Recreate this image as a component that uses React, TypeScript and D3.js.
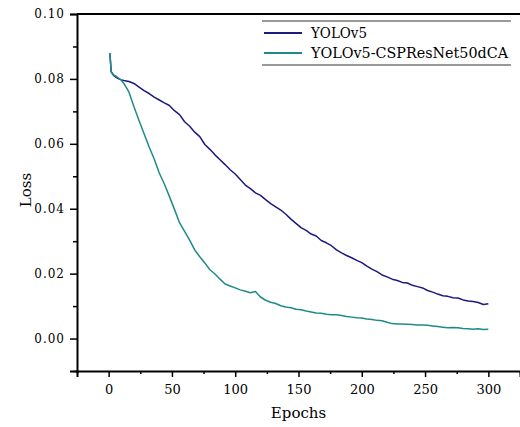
import React, { useRef, useEffect } from 'react';
import * as d3 from 'd3';

// epochs sampled along both curves
const epochs = [1, 2, 4, 6, 8, 10,
  12, 16, 20, 24, 28, 32, 36, 40, 44, 48, 52, 56, 60, 64, 68, 72, 76, 80, 84, 88, 92, 96, 100,
  104, 108, 112, 116, 120, 124, 128, 132, 136, 140, 144, 148, 152, 156, 160, 164, 168, 172, 176, 180,
  184, 188, 192, 196, 200, 204, 208, 212, 216, 220, 224, 228, 232, 236, 240, 244, 248, 252, 256, 260,
  264, 268, 272, 276, 280, 284, 288, 292, 296, 300];

const yolov5 = [0.0879, 0.0822, 0.0810, 0.0805, 0.0800, 0.0797,
  0.0795, 0.0792, 0.0786, 0.0775, 0.0764, 0.0755, 0.0744, 0.0735, 0.0726, 0.0718, 0.0702, 0.0690, 0.0668,
  0.0654, 0.0636, 0.0622, 0.0598, 0.0583, 0.0566, 0.0551, 0.0536, 0.0520, 0.0507,
  0.0490, 0.0473, 0.0462, 0.0449, 0.0441, 0.0428, 0.0416, 0.0406, 0.0396, 0.0383, 0.0368, 0.0355, 0.0342,
  0.0333, 0.0322, 0.0316, 0.0302, 0.0295, 0.0286, 0.0273,
  0.0264, 0.0256, 0.0249, 0.0241, 0.0234, 0.0223, 0.0214, 0.0206, 0.0196, 0.0190, 0.0183, 0.0179, 0.0173,
  0.0171, 0.0164, 0.0160, 0.0156, 0.0148, 0.0143, 0.0137,
  0.0132, 0.0130, 0.0126, 0.0125, 0.0119, 0.0116, 0.0114, 0.0111, 0.0105, 0.0107];

const cspResNet = [0.0879, 0.0822, 0.0812, 0.0808, 0.0802, 0.0796,
  0.0786, 0.0760, 0.0714, 0.0672, 0.0631, 0.0590, 0.0553, 0.0510, 0.0476, 0.0438, 0.0398, 0.0357, 0.0330,
  0.0303, 0.0273, 0.0252, 0.0233, 0.0212, 0.0199, 0.0183, 0.0168, 0.0162, 0.0156,
  0.0150, 0.0146, 0.0141, 0.0145, 0.0128, 0.0118, 0.0112, 0.0108, 0.0101, 0.0097, 0.0095, 0.0090, 0.0089,
  0.0085, 0.0082, 0.0079, 0.0078, 0.0075, 0.0073, 0.0073,
  0.0071, 0.0068, 0.0066, 0.0064, 0.0063, 0.0060, 0.0059, 0.0056, 0.0055, 0.0050, 0.0046, 0.0045, 0.0045,
  0.0044, 0.0043, 0.0042, 0.0042, 0.0041, 0.0039, 0.0037,
  0.0035, 0.0033, 0.0034, 0.0033, 0.0031, 0.0030, 0.0029, 0.0030, 0.0028, 0.0029];

const seriesNames = ['YOLOv5', 'YOLOv5-CSPResNet50dCA'];
const seriesColors = ['#1a1a80', '#1f8a8a'];
const xTicks = [0, 50, 100, 150, 200, 250, 300];
const xMinorTicks = [-25, 25, 75, 125, 175, 225, 275, 325];
const yTicks = [0, 0.02, 0.04, 0.06, 0.08, 0.1];
const yMinorTicks = [-0.01, 0.01, 0.03, 0.05, 0.07, 0.09];

const App = () => {
  const svgRef = useRef<SVGSVGElement | null>(null);

  useEffect(() => {
    const svg = d3.select(svgRef.current);
    svg.selectAll('*').remove();

    const left = 77, right = 520, top = 14, bottom = 371;
    const font = "'DejaVu Serif', serif";

    const x = d3.scaleLinear().domain([-25, 325]).range([left, right]);
    const y = d3.scaleLinear().domain([-0.01, 0.1]).range([bottom, top]);

    // lines
    const line = d3.line<number>()
      .x((_, i) => x(epochs[i]))
      .y(d => y(d));

    [yolov5, cspResNet].forEach((vals, k) => {
      svg.append('path')
        .datum(vals)
        .attr('fill', 'none')
        .attr('stroke', seriesColors[k])
        .attr('stroke-width', 1.5)
        .attr('stroke-linejoin', 'round')
        .attr('d', line);
    });

    // x axis
    const xAxis = svg.append('g').attr('transform', `translate(0,${bottom})`);
    xAxis.call(d3.axisBottom(x).tickValues(xTicks).tickSize(6).tickFormat(d3.format('d')))
      .call(g => g.select('.domain').attr('stroke-width', 2))
      .call(g => g.selectAll('.tick line').attr('stroke-width', 1.5))
      .call(g => g.selectAll('.tick text').style('font-family', font).style('font-size', '13px').attr('dy', '1.1em'));
    xAxis.append('g')
      .call(d3.axisBottom(x).tickValues(xMinorTicks).tickSize(3).tickFormat(() => ''))
      .call(g => g.select('.domain').remove())
      .call(g => g.selectAll('.tick line').attr('stroke-width', 1.5));

    // y axis
    const yAxis = svg.append('g').attr('transform', `translate(${left},0)`);
    yAxis.call(d3.axisLeft(y).tickValues(yTicks).tickSize(7).tickPadding(5).tickFormat(d3.format('.2f')))
      .call(g => g.select('.domain').attr('stroke-width', 2))
      .call(g => g.selectAll('.tick line').attr('stroke-width', 1.5))
      .call(g => g.selectAll('.tick text').style('font-family', font).style('font-size', '12px').style('letter-spacing', '1px'));
    yAxis.append('g')
      .call(d3.axisLeft(y).tickValues(yMinorTicks).tickSize(4).tickFormat(() => ''))
      .call(g => g.select('.domain').remove())
      .call(g => g.selectAll('.tick line').attr('stroke-width', 1.5));

    // top frame line
    svg.append('line')
      .attr('x1', left).attr('x2', right)
      .attr('y1', top).attr('y2', top)
      .attr('stroke', '#000').attr('stroke-width', 2);

    // axis titles
    svg.append('text')
      .attr('x', (left + right) / 2).attr('y', 418)
      .attr('text-anchor', 'middle')
      .style('font-family', font).style('font-size', '15px')
      .text('Epochs');
    svg.append('text')
      .attr('transform', 'translate(31,190) rotate(-90)')
      .attr('text-anchor', 'middle')
      .style('font-family', font).style('font-size', '15px')
      .text('Loss');

    // legend
    const lg = svg.append('g');
    [21, 65].forEach(ly => {
      lg.append('line')
        .attr('x1', 262).attr('x2', 511).attr('y1', ly).attr('y2', ly)
        .attr('stroke', '#777').attr('stroke-width', 1.5);
    });
    seriesNames.forEach((name, k) => {
      const ly = 33 + k * 20;
      lg.append('text')
        .attr('x', 311).attr('y', ly)
        .attr('dy', '0.36em')
        .attr('textLength', k === 0 ? 56 : 197)
        .attr('lengthAdjust', 'spacingAndGlyphs')
        .style('font-family', font).style('font-size', '15px')
        .text(name);
      lg.append('line')
        .attr('x1', 264).attr('x2', 302).attr('y1', ly).attr('y2', ly)
        .attr('stroke', seriesColors[k]).attr('stroke-width', 2);
    });
  }, []);

  return (
    <div style={{ position: 'absolute', left: 0, top: 0, background: '#fff' }}>
      <svg ref={svgRef} width={520} height={427} style={{ display: 'block' }}></svg>
    </div>
  );
};

export default App;
